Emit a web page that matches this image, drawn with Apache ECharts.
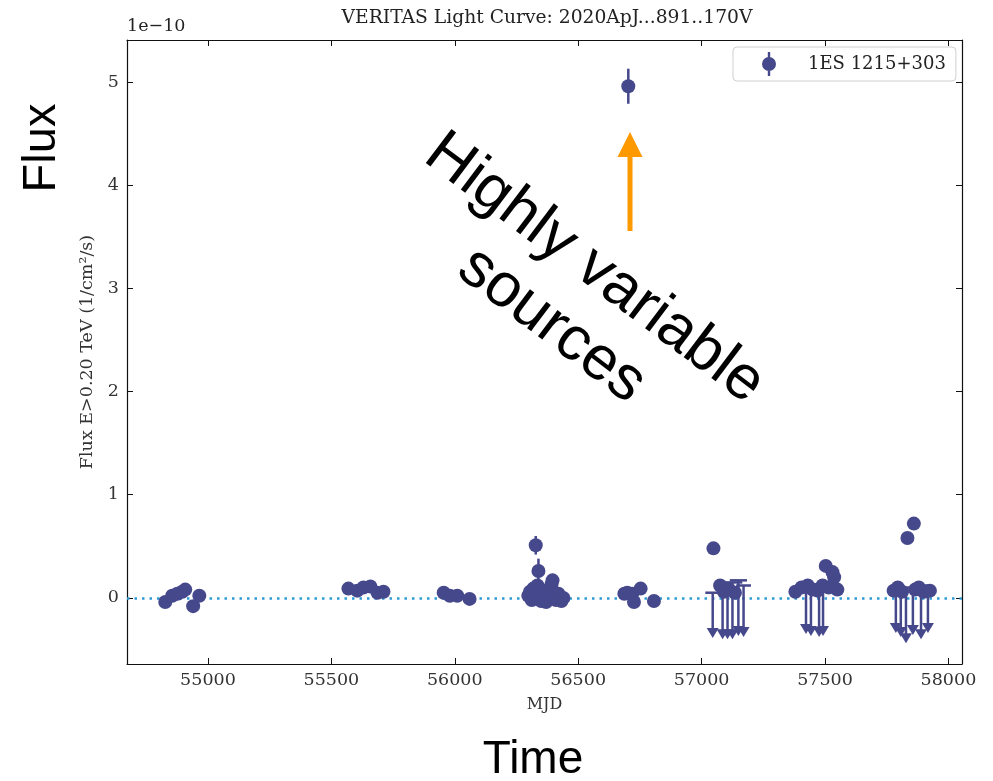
<!DOCTYPE html>
<html>
<head>
<meta charset="utf-8">
<script src="https://cdn.jsdelivr.net/npm/echarts@6/dist/echarts.min.js"></script>
<style>html,body{margin:0;padding:0;background:#fff}#c{width:993px;height:781px}</style>
</head>
<body>
<div id="c"></div>
<script>
// ---- data (flux in units of 1e-10 1/cm^2/s) ----
const seriesName = '1ES 1215+303';
const xTicks = [55000, 55500, 56000, 56500, 57000, 57500, 58000];
const yTicks = [0, 1, 2, 3, 4, 5];

// detections
const detMjd = [
  54827, 54855, 54876, 54896, 54908, 54940, 54965,
  55569, 55605, 55630, 55658, 55687, 55711,
  55955, 55980, 56010, 56060,
  56298, 56305, 56312, 56318, 56322, 56328, 56335, 56339, 56344, 56350, 56356, 56362, 56370, 56378, 56385, 56392, 56396, 56402, 56410, 56420, 56432, 56440,
  56687, 56699, 56703, 56719, 56726, 56753, 56807,
  57048, 57075, 57090, 57112, 57135,
  57380, 57405, 57430, 57450, 57470, 57490, 57503, 57515, 57530, 57537, 57550,
  57778, 57795, 57812, 57834, 57860, 57865, 57880, 57900, 57925
];
const detFlux = [
  -0.04, 0.02, 0.04, 0.06, 0.08, -0.08, 0.02,
  0.09, 0.07, 0.10, 0.11, 0.05, 0.06,
  0.05, 0.02, 0.02, -0.01,
  0.02, 0.06, -0.02, 0.09, 0.03, 0.51, 0.12, 0.26, 0.0, -0.03, 0.07, 0.02, -0.04, 0.05, 0.09, 0.13, 0.17, 0.03, -0.02, 0.04, -0.03, 0.0,
  0.04, 0.05, 4.96, 0.04, -0.04, 0.09, -0.03,
  0.48, 0.12, 0.06, 0.08, 0.05,
  0.06, 0.10, 0.12, 0.08, 0.07, 0.12, 0.31, 0.10, 0.25, 0.20, 0.08,
  0.07, 0.10, 0.06, 0.58, 0.72, 0.08, 0.10, 0.06, 0.07
];
const detErr = [
  0.04, 0.04, 0.04, 0.04, 0.04, 0.04, 0.04,
  0.03, 0.03, 0.03, 0.03, 0.03, 0.03,
  0.03, 0.03, 0.03, 0.03,
  0.04, 0.04, 0.04, 0.04, 0.04, 0.09, 0.05, 0.12, 0.04, 0.04, 0.04, 0.04, 0.04, 0.04, 0.04, 0.05, 0.05, 0.04, 0.04, 0.04, 0.04, 0.04,
  0.04, 0.04, 0.17, 0.04, 0.04, 0.04, 0.04,
  0.04, 0.05, 0.05, 0.05, 0.05,
  0.05, 0.05, 0.05, 0.05, 0.05, 0.05, 0.05, 0.05, 0.05, 0.05, 0.05,
  0.05, 0.05, 0.05, 0.06, 0.05, 0.05, 0.05, 0.05, 0.05
];

// upper limits
const ulMjd  = [57045, 57085, 57105, 57125, 57149, 57170, 57423, 57443, 57476, 57492, 57787, 57807, 57828, 57856, 57889, 57917];
const ulFlux = [0.05, 0.10, 0.08, 0.15, 0.17, 0.12, 0.10, 0.13, 0.10, 0.08, 0.08, 0.10, 0.06, 0.10, 0.12, 0.08];
const ulBin  = [30, 30, 25, 40, 35, 30, 40, 30, 25, 25, 25, 20, 30, 35, 40, 30];
const ulLen  = [0.44, 0.50, 0.48, 0.55, 0.54, 0.50, 0.45, 0.50, 0.48, 0.45, 0.42, 0.48, 0.50, 0.46, 0.52, 0.42];

// ---- styles ----
const C = '#46488c';
const SERIF = '"DejaVu Serif", serif';
const SANS = '"Liberation Sans", Arial, sans-serif';

const chart = echarts.init(document.getElementById('c'), null, {renderer: 'canvas'});

function axisBase() {
  return {
    type: 'value', scale: false,
    axisLine: {show: true, onZero: false, lineStyle: {color: '#111', width: 1.2}},
    splitLine: {show: false}
  };
}

function plain(v) { return String(Math.round(v)); }

function renderDetErr(params, api) {
  const x = api.value(0), y = api.value(1), e = api.value(2);
  const p1 = api.coord([x, y - e]), p2 = api.coord([x, y + e]);
  return {type: 'line', shape: {x1: p1[0], y1: p1[1], x2: p2[0], y2: p2[1]},
          style: {stroke: C, lineWidth: 2.5}};
}

function renderUL(params, api) {
  const x = api.value(0), y = api.value(1), bin = api.value(2), len = api.value(3);
  const l = api.coord([x - bin, y]), r = api.coord([x + bin, y]);
  const c = api.coord([x, y]), b = api.coord([x, y - len]);
  return {type: 'group', children: [
    {type: 'line', shape: {x1: l[0], y1: l[1], x2: r[0], y2: r[1]}, style: {stroke: C, lineWidth: 2.5}},
    {type: 'line', shape: {x1: c[0], y1: c[1], x2: b[0], y2: b[1] - 8}, style: {stroke: C, lineWidth: 2.5}},
    {type: 'polygon', shape: {points: [[b[0] - 6, b[1] - 10], [b[0] + 6, b[1] - 10], [b[0], b[1]]]}, style: {fill: C}}
  ]};
}

const option = {
  animation: false,
  backgroundColor: '#fff',
  grid: {left: 127, right: 31, top: 40, bottom: 117, containLabel: false},
  legend: {
    show: true, left: 733, top: 47, orient: 'vertical',
    padding: [5, 10, 5, 29],
    backgroundColor: '#fff', borderColor: '#d0d0d0', borderWidth: 1, borderRadius: 4,
    itemWidth: 14, itemHeight: 24,
    data: [{name: seriesName,
      icon: 'path://M6.8,0 H9.2 V6 H6.8 Z M6.8,18 H9.2 V24 H6.8 Z M1,12 A7,7 0 1 1 15,12 A7,7 0 1 1 1,12 Z'}],
    textStyle: {fontFamily: SERIF, fontSize: 18, color: '#222', padding: [0, 0, 0, 27]}
  },
  xAxis: [
    Object.assign(axisBase(), {
      position: 'bottom', min: 54672, max: 58055,
      name: 'MJD', nameLocation: 'middle', nameGap: 33,
      nameTextStyle: {fontFamily: SERIF, fontSize: 16, color: '#333'},
      axisTick: {show: true, inside: true, length: 6, customValues: xTicks, lineStyle: {color: '#111', width: 1}},
      axisLabel: {show: true, customValues: xTicks, formatter: plain, margin: 7, fontFamily: SERIF, fontSize: 17.5, color: '#333'}
    }),
    Object.assign(axisBase(), {
      position: 'top', min: 54672, max: 58055,
      axisTick: {show: true, inside: true, length: 6, customValues: xTicks, lineStyle: {color: '#111', width: 1}},
      axisLabel: {show: false}
    })
  ],
  yAxis: [
    Object.assign(axisBase(), {
      position: 'left', min: -0.641, max: 5.408,
      name: 'Flux E>0.20 TeV (1/cm²/s)', nameLocation: 'middle', nameGap: 31,
      nameTextStyle: {fontFamily: SERIF, fontSize: 17.5, color: '#333'},
      axisTick: {show: true, inside: true, length: 6, customValues: yTicks, lineStyle: {color: '#111', width: 1}},
      axisLabel: {show: true, customValues: yTicks, formatter: plain, margin: 8, fontFamily: SERIF, fontSize: 17.5, color: '#333'}
    }),
    Object.assign(axisBase(), {
      position: 'right', min: -0.641, max: 5.408,
      axisTick: {show: true, inside: true, length: 6, customValues: yTicks, lineStyle: {color: '#111', width: 1}},
      axisLabel: {show: false}
    })
  ],
  series: [
    {
      type: 'custom', name: 'ul', xAxisIndex: 0, yAxisIndex: 0, z: 3, clip: true,
      renderItem: renderUL,
      data: ulMjd.map((m, i) => [m, ulFlux[i], ulBin[i], ulLen[i]])
    },
    {
      type: 'custom', name: 'err', xAxisIndex: 0, yAxisIndex: 0, z: 4, clip: true,
      renderItem: renderDetErr,
      data: detMjd.map((m, i) => [m, detFlux[i], detErr[i]])
    },
    {
      type: 'scatter', name: seriesName, xAxisIndex: 0, yAxisIndex: 0, z: 5,
      symbol: 'circle', symbolSize: 14,
      itemStyle: {color: C, opacity: 1},
      data: detMjd.map((m, i) => [m, detFlux[i]]),
      markLine: {
        silent: true, symbol: 'none', z: 2,
        label: {show: false},
        lineStyle: {color: '#2e9bd6', width: 2.5, type: [2.5, 5], cap: 'butt'},
        data: [{yAxis: 0}]
      }
    }
  ],
  graphic: [
    {type: 'text', x: 547, y: 18, style: {text: 'VERITAS Light Curve: 2020ApJ...891..170V', font: '18.7px ' + SERIF, fill: '#222', align: 'center', verticalAlign: 'middle'}},
    {type: 'text', x: 127, y: 26, style: {text: '1e\u221210', font: '17.5px ' + SERIF, fill: '#222', align: 'left', verticalAlign: 'middle'}},
    {type: 'text', x: 42, y: 148, rotation: Math.PI / 2, style: {text: 'Flux', font: '47px ' + SANS, fill: '#000', align: 'center', verticalAlign: 'middle'}},
    {type: 'text', x: 533, y: 760, style: {text: 'Time', font: '46px ' + SANS, fill: '#000', align: 'center', verticalAlign: 'middle'}},
    {type: 'text', x: 573, y: 297, rotation: -37 * Math.PI / 180, style: {text: 'Highly variable\nsources', font: '62px ' + SANS, lineHeight: 71, fill: '#000', align: 'center', verticalAlign: 'middle'}},
    {type: 'polygon', shape: {points: [[627.5, 231], [632.5, 231], [632.5, 157], [642.5, 157], [630, 132], [617.5, 157], [627.5, 157]]}, style: {fill: '#ff9900'}}
  ]
};

chart.setOption(option);
</script>
</body>
</html>
